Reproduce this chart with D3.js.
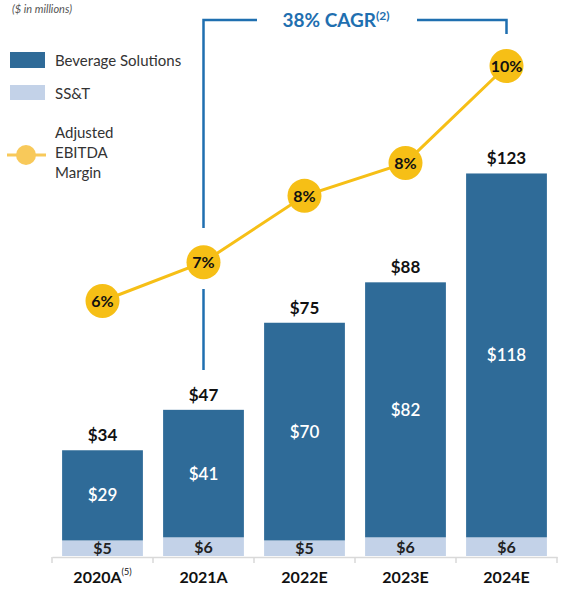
<!DOCTYPE html>
<html lang="en">
<head>
<meta charset="UTF-8">
<title>Revenue and EBITDA margin</title>
<script src="https://cdn.jsdelivr.net/npm/d3@7"></script>
<style>
    body { margin: 0; background: #fff; }
    svg text { font-family: Lato, "Open Sans", sans-serif; }
</style>
</head>
<body>
<svg id="chart" width="568" height="593"></svg>
<script>
var years = ['2020A', '2021A', '2022E', '2023E', '2024E'];
var yearNotes = ['(5)', '', '', '', ''];
var beverage = [29, 41, 70, 82, 118];
var sst = [5, 6, 5, 6, 6];
var totals = [34, 47, 75, 88, 123];
var margin = [6.0, 6.66, 7.79, 8.35, 10.0];

var BEV = '#2f6b98', SST = '#c3d2e8', GOLD = '#f6bf16', BLUE = '#1f6fb0';

var svg = d3.select('#chart');

var x = d3.scaleBand().domain(years).range([52, 557]).paddingInner(0.2).paddingOuter(0.1);
var y = d3.scaleLinear().domain([0, 125]).range([556, 556 - 125 * 3.11]);
var ym = d3.scaleLinear().domain([6, 10]).range([301, 66]);

// axis
var axis = svg.append('g')
    .attr('transform', 'translate(0,557)')
    .call(d3.axisBottom(x).tickSize(0).tickFormat(''));
axis.select('.domain').attr('stroke', '#d9d9d9').attr('stroke-width', 1.5);
axis.selectAll('.sep')
    .data(years.slice(0).concat(['end']))
    .enter().append('line')
    .attr('x1', function (d, i) { return 52 + i * (505 / 5); })
    .attr('x2', function (d, i) { return 52 + i * (505 / 5); })
    .attr('y1', 0).attr('y2', 6)
    .attr('stroke', '#d9d9d9').attr('stroke-width', 1.5);

var labels = svg.selectAll('.cat').data(years).enter().append('text')
    .attr('class', 'cat')
    .attr('x', function (d) { return x(d) + x.bandwidth() / 2; })
    .attr('y', 583)
    .attr('text-anchor', 'middle')
    .attr('font-size', 16).attr('font-weight', 700).attr('fill', '#111')
    .text(function (d) { return d; });
labels.filter(function (d, i) { return yearNotes[i]; })
    .append('tspan')
    .attr('dy', -8).attr('font-size', 9).attr('font-weight', 400)
    .text(function (d) { return yearNotes[years.indexOf(d)]; });

// bars
var g = svg.append('g');
g.selectAll('.sst').data(years).enter().append('rect')
    .attr('x', function (d) { return x(d); })
    .attr('width', x.bandwidth())
    .attr('y', function (d, i) { return y(sst[i]); })
    .attr('height', function (d, i) { return y(0) - y(sst[i]); })
    .attr('fill', SST);
g.selectAll('.bev').data(years).enter().append('rect')
    .attr('x', function (d) { return x(d); })
    .attr('width', x.bandwidth())
    .attr('y', function (d, i) { return y(totals[i]); })
    .attr('height', function (d, i) { return y(sst[i]) - y(totals[i]); })
    .attr('fill', BEV);

g.selectAll('.sstLab').data(years).enter().append('text')
    .attr('x', function (d) { return x(d) + x.bandwidth() / 2; })
    .attr('y', function (d, i) { return (y(0) + y(sst[i])) / 2 + 6; })
    .attr('text-anchor', 'middle').attr('font-size', 16).attr('font-weight', 700).attr('fill', '#222')
    .text(function (d, i) { return '$' + sst[i]; });
g.selectAll('.bevLab').data(years).enter().append('text')
    .attr('x', function (d) { return x(d) + x.bandwidth() / 2; })
    .attr('y', function (d, i) { return (y(sst[i]) + y(totals[i])) / 2 + 6; })
    .attr('text-anchor', 'middle').attr('font-size', 17).attr('font-weight', 600).attr('fill', '#fff')
    .text(function (d, i) { return '$' + beverage[i]; });
g.selectAll('.totLab').data(years).enter().append('text')
    .attr('x', function (d) { return x(d) + x.bandwidth() / 2; })
    .attr('y', function (d, i) { return y(totals[i]) - 9; })
    .attr('text-anchor', 'middle').attr('font-size', 17).attr('font-weight', 700).attr('fill', '#111')
    .text(function (d, i) { return '$' + totals[i]; });

// CAGR bracket
var xl = x('2021A') + x.bandwidth() / 2, xr = x('2024E') + x.bandwidth() / 2;
var br = svg.append('g').attr('stroke', BLUE).attr('stroke-width', 2.5).attr('fill', 'none');
br.append('path').attr('d', 'M' + xl + ',228 V20 H257');
br.append('path').attr('d', 'M' + xl + ',289 V370');
br.append('path').attr('d', 'M417,20 H' + xr + ' V34');
var cagr = svg.append('text').attr('x', 336).attr('y', 27).attr('text-anchor', 'middle')
    .attr('font-size', 19).attr('font-weight', 700).attr('fill', BLUE).text('38% CAGR');
cagr.append('tspan').attr('dy', -7).attr('font-size', 12).text('(2)');

// margin line
var line = d3.line()
    .x(function (d, i) { return x(years[i]) + x.bandwidth() / 2; })
    .y(function (d) { return ym(d); });
svg.append('path').datum(margin).attr('d', line)
    .attr('fill', 'none').attr('stroke', GOLD).attr('stroke-width', 3);
var pts = svg.selectAll('.pt').data(margin).enter().append('g')
    .attr('transform', function (d, i) { return 'translate(' + (x(years[i]) + x.bandwidth() / 2) + ',' + ym(d) + ')'; });
pts.append('circle').attr('r', 17).attr('fill', GOLD);
pts.append('text').attr('text-anchor', 'middle').attr('y', 6)
    .attr('font-size', 16).attr('font-weight', 700).attr('fill', '#111')
    .text(function (d) { return Math.round(d) + '%'; });

// legend & note
svg.append('text').attr('x', 12).attr('y', 13).attr('font-size', 11).attr('font-style', 'italic')
    .attr('fill', '#555').text('($ in millions)');
svg.append('rect').attr('x', 10).attr('y', 52).attr('width', 35).attr('height', 16).attr('fill', BEV);
svg.append('text').attr('x', 55).attr('y', 66).attr('font-size', 15).attr('fill', '#333').text('Beverage Solutions');
svg.append('rect').attr('x', 10).attr('y', 85).attr('width', 35).attr('height', 15).attr('fill', SST);
svg.append('text').attr('x', 55).attr('y', 99).attr('font-size', 15).attr('fill', '#333').text('SS&T');
svg.append('line').attr('x1', 7).attr('x2', 46).attr('y1', 155).attr('y2', 155)
    .attr('stroke', '#f8c95a').attr('stroke-width', 3);
svg.append('circle').attr('cx', 26).attr('cy', 155).attr('r', 10).attr('fill', '#f8c95a');
svg.append('text').attr('x', 55).attr('y', 138).attr('font-size', 15).attr('fill', '#333')
    .selectAll('tspan').data(['Adjusted', 'EBITDA', 'Margin']).enter().append('tspan')
    .attr('x', 55).attr('dy', function (d, i) { return i ? 20 : 0; }).text(function (d) { return d; });
</script>
</body>
</html>
